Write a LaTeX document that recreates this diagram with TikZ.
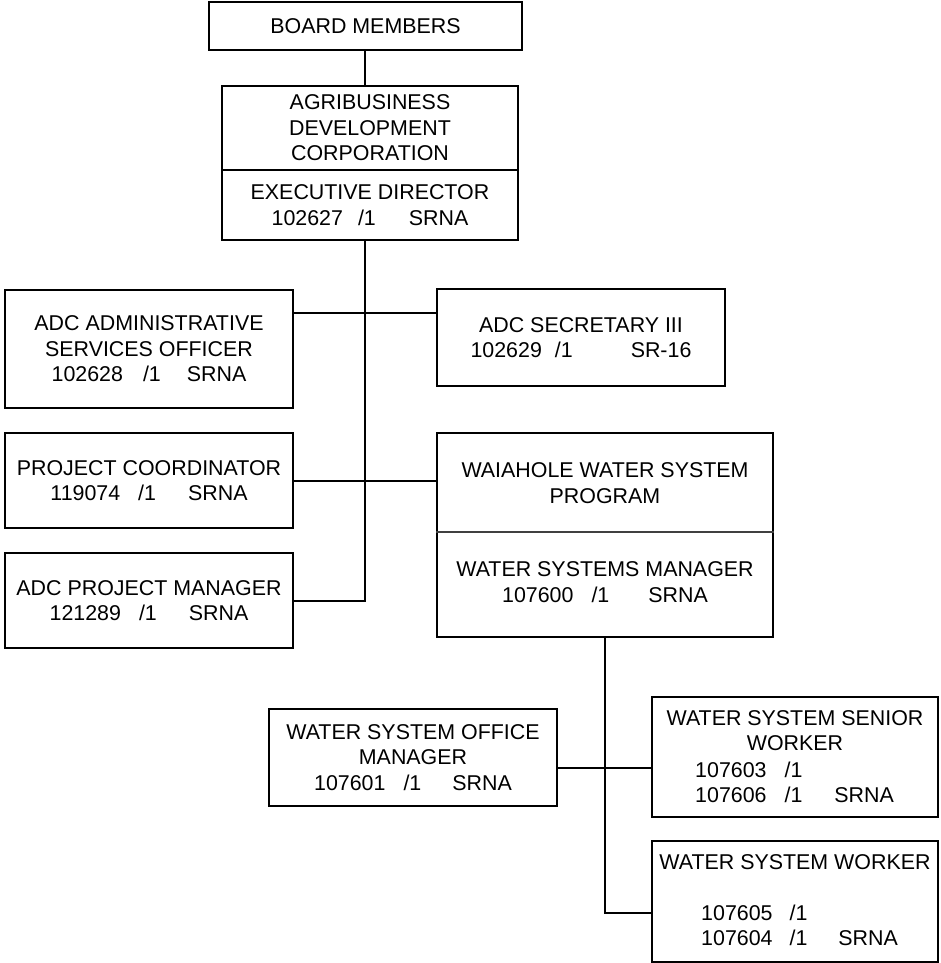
\documentclass[tikz,border=0pt]{standalone}
\usepackage{fontspec}
\setmainfont{Liberation Sans}
\newcommand\orgfont{\fontsize{21.4}{25.5}\selectfont}
\begin{document}
\begin{tikzpicture}[x=1pt,y=-1pt]
\tikzset{
  box/.style={draw, line width=1.8pt, inner sep=0pt, align=center, font=\orgfont},
  lbl/.style={inner sep=0pt, align=center, font=\orgfont},
  link/.style={line width=1.8pt},
}
\useasboundingbox (0,0) rectangle (940,963);
% boxes
\node[box, minimum width=313pt, minimum height=48pt] (board) at (365.5,26) {BOARD MEMBERS};
\node[box, minimum width=296pt, minimum height=84pt] (adcTop) at (370,128) {AGRIBUSINESS\\DEVELOPMENT\\CORPORATION};
\node[box, minimum width=296pt, minimum height=70pt] (adcBot) at (370,205) {EXECUTIVE DIRECTOR\\102627\hspace{15pt}/1\hspace{33pt}SRNA};
\node[box, minimum width=288pt, minimum height=118pt] (admin) at (149,349) {ADC ADMINISTRATIVE\\SERVICES OFFICER\\102628\hspace{20pt}/1\hspace{26pt}SRNA};
\node[box, minimum width=288pt, minimum height=97pt] (sec) at (581,337.5) {ADC SECRETARY III\\102629\hspace{13pt}/1\hspace{58pt}SR-16};
\node[box, minimum width=288pt, minimum height=95pt] (coord) at (149,480.5) {PROJECT COORDINATOR\\119074\hspace{18pt}/1\hspace{32pt}SRNA};
\node[box, minimum width=288pt, minimum height=95pt] (pm) at (149,600.5) {ADC PROJECT MANAGER\\121289\hspace{18pt}/1\hspace{32pt}SRNA};
\node[box, minimum width=336pt, minimum height=204pt] (wai) at (605,535) {};
\node[lbl] (waiTop) at (605,483) {WAIAHOLE WATER SYSTEM\\PROGRAM};
\node[lbl] (waiBot) at (605,582) {WATER SYSTEMS MANAGER\\107600\hspace{18pt}/1\hspace{39pt}SRNA};
\draw[line width=1.2pt, black!75] (wai.west |- 0,532) -- (wai.east |- 0,532);
\node[box, minimum width=288pt, minimum height=97pt] (office) at (413,757.5) {WATER SYSTEM OFFICE\\MANAGER\\107601\hspace{18pt}/1\hspace{31pt}SRNA};
\node[box, minimum width=286pt, minimum height=120pt] (senior) at (795,757) {};
\node[lbl] (seniorT) at (795,730.5) {WATER SYSTEM SENIOR\\WORKER};
\node[lbl, align=left, anchor=west] (seniorN) at (695,782.5) {107603\hspace{18pt}/1\\107606\hspace{18pt}/1\hspace{32pt}SRNA};
\node[box, minimum width=286pt, minimum height=121pt] (worker) at (795,901.5) {};
\node[lbl] (workerT) at (795,862) {WATER SYSTEM WORKER};
\node[lbl, align=left, anchor=west] (workerN) at (701,925.5) {107605\hspace{17pt}/1\\107604\hspace{17pt}/1\hspace{31pt}SRNA};
% junctions
\coordinate (s1) at (365,313);
\coordinate (s2) at (365,481);
\coordinate (s3) at (365,601);
\coordinate (w1) at (605,768);
\coordinate (w2) at (605,913);
% connectors
\draw[link] (s1 |- board.south) -- (s1 |- adcTop.north);
\draw[link] (adcBot.south -| s1) -- (s3) -- (pm.east |- s3);
\draw[link] (admin.east |- s1) -- (sec.west |- s1);
\draw[link] (coord.east |- s2) -- (wai.west |- s2);
\draw[link] (wai.south) -- (w2) -- (worker.west |- w2);
\draw[link] (office.east |- w1) -- (senior.west |- w1);
\end{tikzpicture}
\end{document}
